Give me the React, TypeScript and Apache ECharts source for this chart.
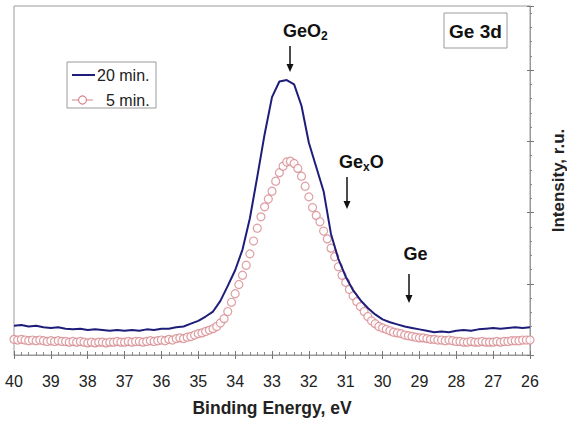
import React, { useEffect, useRef } from "react";
import * as echarts from "echarts";

// Binding energy grid (eV) and intensities (r.u.)
const blueEnergy = [
  40.0, 39.8, 39.6, 39.4, 39.2, 39.0, 38.8, 38.6, 38.4, 38.2,
  38.0, 37.8, 37.6, 37.4, 37.2, 37.0, 36.8, 36.6, 36.4, 36.2,
  36.0, 35.8, 35.6, 35.4, 35.2, 35.0, 34.8, 34.6, 34.4, 34.2,
  34.0, 33.8, 33.6, 33.4, 33.2, 33.0, 32.8, 32.6, 32.4, 32.2,
  32.0, 31.8, 31.6, 31.4, 31.2, 31.0, 30.8, 30.6, 30.4, 30.2,
  30.0, 29.8, 29.6, 29.4, 29.2, 29.0, 28.8, 28.6, 28.4, 28.2,
  28.0, 27.8, 27.6, 27.4, 27.2, 27.0, 26.8, 26.6, 26.4, 26.2,
  26.0,
];
const blueIntensity = [
  0.41, 0.42, 0.40, 0.41, 0.39, 0.38, 0.39, 0.37, 0.36, 0.37,
  0.35, 0.36, 0.35, 0.34, 0.35, 0.34, 0.35, 0.34, 0.36, 0.35,
  0.37, 0.37, 0.39, 0.40, 0.44, 0.48, 0.54, 0.61, 0.76, 0.97,
  1.19, 1.48, 1.92, 2.50, 3.10, 3.62, 3.84, 3.86, 3.80, 3.50,
  2.98, 2.64, 2.30, 1.70, 1.35, 1.10, 0.91, 0.77, 0.66, 0.57,
  0.50, 0.46, 0.43, 0.40, 0.38, 0.36, 0.34, 0.32, 0.33, 0.32,
  0.34, 0.35, 0.34, 0.36, 0.37, 0.38, 0.37, 0.38, 0.39, 0.38,
  0.39,
];

const redEnergy = [
  40.0, 39.9, 39.8, 39.7, 39.6, 39.5, 39.4, 39.3, 39.2, 39.1,
  39.0, 38.9, 38.8, 38.7, 38.6, 38.5, 38.4, 38.3, 38.2, 38.1,
  38.0, 37.9, 37.8, 37.7, 37.6, 37.5, 37.4, 37.3, 37.2, 37.1,
  37.0, 36.9, 36.8, 36.7, 36.6, 36.5, 36.4, 36.3, 36.2, 36.1,
  36.0, 35.9, 35.8, 35.7, 35.6, 35.5, 35.4, 35.3, 35.2, 35.1,
  35.0, 34.9, 34.8, 34.7, 34.6, 34.5, 34.4, 34.3, 34.2, 34.1,
  34.0, 33.9, 33.8, 33.7, 33.6, 33.5, 33.4, 33.3, 33.2, 33.1,
  33.0, 32.9, 32.8, 32.7, 32.6, 32.5, 32.4, 32.3, 32.2, 32.1,
  32.0, 31.9, 31.8, 31.7, 31.6, 31.5, 31.4, 31.3, 31.2, 31.1,
  31.0, 30.9, 30.8, 30.7, 30.6, 30.5, 30.4, 30.3, 30.2, 30.1,
  30.0, 29.9, 29.8, 29.7, 29.6, 29.5, 29.4, 29.3, 29.2, 29.1,
  29.0, 28.9, 28.8, 28.7, 28.6, 28.5, 28.4, 28.3, 28.2, 28.1,
  28.0, 27.9, 27.8, 27.7, 27.6, 27.5, 27.4, 27.3, 27.2, 27.1,
  27.0, 26.9, 26.8, 26.7, 26.6, 26.5, 26.4, 26.3, 26.2, 26.1,
  26.0,
];
const redIntensity = [
  0.22, 0.21, 0.22, 0.21, 0.20, 0.21, 0.20, 0.21, 0.20, 0.19,
  0.20, 0.19, 0.20, 0.19, 0.19, 0.18, 0.19, 0.18, 0.19, 0.18,
  0.17, 0.18, 0.17, 0.18, 0.18, 0.17, 0.18, 0.18, 0.19, 0.18,
  0.18, 0.19, 0.18, 0.19, 0.19, 0.18, 0.19, 0.20, 0.19, 0.20,
  0.21, 0.20, 0.22, 0.21, 0.23, 0.24, 0.23, 0.25, 0.26, 0.28,
  0.30, 0.31, 0.33, 0.35, 0.37, 0.40, 0.45, 0.51, 0.61, 0.74,
  0.86, 0.99, 1.12, 1.26, 1.42, 1.60, 1.78, 1.94, 2.08, 2.19,
  2.30, 2.44, 2.56, 2.65, 2.71, 2.72, 2.69, 2.62, 2.51, 2.37,
  2.22, 2.07, 1.96, 1.87, 1.74, 1.63, 1.50, 1.38, 1.24, 1.12,
  1.02, 0.92, 0.83, 0.75, 0.68, 0.61, 0.54, 0.48, 0.44, 0.40,
  0.38, 0.36, 0.34, 0.32, 0.31, 0.30, 0.28, 0.27, 0.26, 0.25,
  0.24, 0.24, 0.23, 0.22, 0.22, 0.21, 0.21, 0.20, 0.21, 0.20,
  0.19, 0.19, 0.18, 0.18, 0.19, 0.18, 0.18, 0.19, 0.18, 0.18,
  0.18, 0.19, 0.18, 0.19, 0.19, 0.20, 0.20, 0.20, 0.21, 0.21,
  0.21,
];

const seriesNames = ["20 min.", "5 min."];
const xAxisName = "Binding Energy, eV";
const yAxisName = "Intensity, r.u.";
const panelLabel = "Ge 3d";

const FONT = "'Liberation Sans', Arial, Helvetica, sans-serif";
const BLUE = "#1e1e7a";
const RED = "#d6878c";
const GREY = "#9a9a9a";

function arrow(x: number, y1: number, y2: number) {
  return {
    type: "group",
    children: [
      { type: "line", shape: { x1: x, y1, x2: x, y2: y2 - 6 }, style: { stroke: "#111", lineWidth: 1.5 } },
      {
        type: "polygon",
        shape: { points: [[x - 3.5, y2 - 8], [x + 3.5, y2 - 8], [x, y2]] },
        style: { fill: "#111" },
      },
    ],
  };
}

export default function App() {
  const ref = useRef<HTMLDivElement>(null);
  useEffect(() => {
    if (!ref.current) return;
    document.body.style.margin = "0";
    document.body.style.overflow = "hidden";
    const chart = echarts.init(ref.current, null, { renderer: "svg", width: 567, height: 421 });
    const blueData = blueEnergy.map((e, i) => [e, blueIntensity[i]]);
    const redData = redEnergy.map((e, i) => [e, redIntensity[i]]);

    const xBase = {
      type: "value",
      min: 26,
      max: 40,
      interval: 1,
      inverse: true,
      position: "bottom",
      splitLine: { show: false },
    };
    const yBase = {
      type: "value",
      min: 0,
      max: 4.9,
      interval: 1,
      position: "right",
      splitLine: { show: false },
    };

    chart.setOption({
      animation: false,
      backgroundColor: "#fff",
      grid: {
        left: 14,
        right: 37,
        top: 6,
        bottom: 66,
        containLabel: false,
        outerBoundsMode: "none",
        show: true,
        borderColor: GREY,
        borderWidth: 1,
        backgroundColor: "transparent",
      },
      xAxis: [
        {
          ...xBase,
          axisLine: { show: true, onZero: false, lineStyle: { color: GREY, width: 1 } },
          axisTick: { show: true, inside: true, length: 4, lineStyle: { color: "#777" } },
          minorTick: { show: true, splitNumber: 5, length: 3, lineStyle: { color: "#888" } },
          axisLabel: {
            show: true,
            margin: 18,
            color: "#222",
            fontFamily: FONT,
            fontSize: 16,
            showMinLabel: true,
            showMaxLabel: true,
          },
          name: xAxisName,
          nameLocation: "middle",
          nameGap: 44,
          nameTextStyle: { color: "#222", fontFamily: FONT, fontSize: 17.5, fontWeight: "bold" },
        },
        {
          ...xBase,
          axisLine: { show: false, onZero: false },
          axisTick: { show: true, inside: false, length: 4, lineStyle: { color: "#777" } },
          axisLabel: { show: false },
        },
      ],
      yAxis: [
        {
          ...yBase,
          axisLine: { show: true, onZero: false, lineStyle: { color: GREY, width: 1 } },
          axisTick: { show: true, inside: false, length: 4, lineStyle: { color: "#777" } },
          minorTick: { show: true, splitNumber: 5, length: 2, lineStyle: { color: "#888" } },
          axisLabel: { show: false },
          name: yAxisName,
          nameLocation: "middle",
          nameRotate: 90,
          nameGap: 20,
          nameTextStyle: { color: "#222", fontFamily: FONT, fontSize: 17, fontWeight: "bold" },
        },
        {
          ...yBase,
          axisLine: { show: false, onZero: false },
          axisTick: { show: true, inside: true, length: 3, lineStyle: { color: "#777" } },
          axisLabel: { show: false },
        },
      ],
      series: [
        {
          name: seriesNames[1],
          type: "scatter",
          xAxisIndex: 0,
          yAxisIndex: 0,
          data: redData,
          symbol: "circle",
          symbolSize: 8,
          itemStyle: { color: "#fff", borderColor: RED, borderWidth: 1.2 },
          z: 2,
        },
        {
          name: seriesNames[0],
          type: "line",
          xAxisIndex: 0,
          yAxisIndex: 0,
          data: blueData,
          showSymbol: false,
          symbol: "none",
          lineStyle: { color: BLUE, width: 2 },
          z: 3,
        },
      ],
      graphic: [
        // legend
        {
          type: "rect",
          shape: { x: 67, y: 62, width: 89, height: 46 },
          style: { fill: "#fff", stroke: GREY, lineWidth: 1 },
          z: 10,
        },
        {
          type: "line",
          shape: { x1: 72, y1: 75, x2: 95, y2: 75 },
          style: { stroke: BLUE, lineWidth: 2 },
          z: 11,
        },
        {
          type: "text",
          x: 97,
          y: 75,
          style: { text: seriesNames[0], fontFamily: FONT, fontSize: 16, fill: "#222", textVerticalAlign: "middle", textAlign: "left" },
          z: 11,
        },
        {
          type: "line",
          shape: { x1: 72, y1: 100, x2: 93, y2: 100 },
          style: { stroke: RED, lineWidth: 1 },
          z: 11,
        },
        {
          type: "circle",
          shape: { cx: 82.5, cy: 100, r: 4 },
          style: { fill: "#fff", stroke: RED, lineWidth: 1.2 },
          z: 12,
        },
        {
          type: "text",
          x: 106,
          y: 100,
          style: { text: seriesNames[1], fontFamily: FONT, fontSize: 16, fill: "#222", textVerticalAlign: "middle", textAlign: "left" },
          z: 11,
        },
        // panel label
        {
          type: "rect",
          shape: { x: 444, y: 13, width: 63, height: 35 },
          style: { fill: "#fff", stroke: GREY, lineWidth: 1 },
          z: 10,
        },
        {
          type: "text",
          x: 475.5,
          y: 31,
          style: { text: panelLabel, fontFamily: FONT, fontSize: 19, fontWeight: "bold", fill: "#111", textAlign: "center", textVerticalAlign: "middle" },
          z: 11,
        },
        // annotations
        {
          type: "text",
          x: 283,
          y: 31,
          style: {
            text: "{b|GeO}{s|2}",
            textAlign: "left",
            textVerticalAlign: "middle",
            rich: {
              b: { fontFamily: FONT, fontSize: 18, fontWeight: "bold", fill: "#111", color: "#111" },
              s: { fontFamily: FONT, fontSize: 12, fontWeight: "bold", fill: "#111", color: "#111", padding: [9, 0, 0, 0] },
            },
          },
          z: 11,
        },
        arrow(290, 46, 72),
        {
          type: "text",
          x: 339,
          y: 162,
          style: {
            text: "{b|Ge}{s|x}{b|O}",
            textAlign: "left",
            textVerticalAlign: "middle",
            rich: {
              b: { fontFamily: FONT, fontSize: 18, fontWeight: "bold", fill: "#111", color: "#111" },
              s: { fontFamily: FONT, fontSize: 12, fontWeight: "bold", fill: "#111", color: "#111", padding: [9, 0, 0, 0] },
            },
          },
          z: 11,
        },
        arrow(347, 177, 209),
        {
          type: "text",
          x: 415.5,
          y: 254,
          style: { text: "Ge", fontFamily: FONT, fontSize: 18, fontWeight: "bold", fill: "#111", textAlign: "center", textVerticalAlign: "middle" },
          z: 11,
        },
        arrow(409, 274, 303),
      ],
    });
    return () => chart.dispose();
  }, []);
  return <div ref={ref} style={{ position: "fixed", left: 0, top: 0, width: 567, height: 421 }} />;
}
